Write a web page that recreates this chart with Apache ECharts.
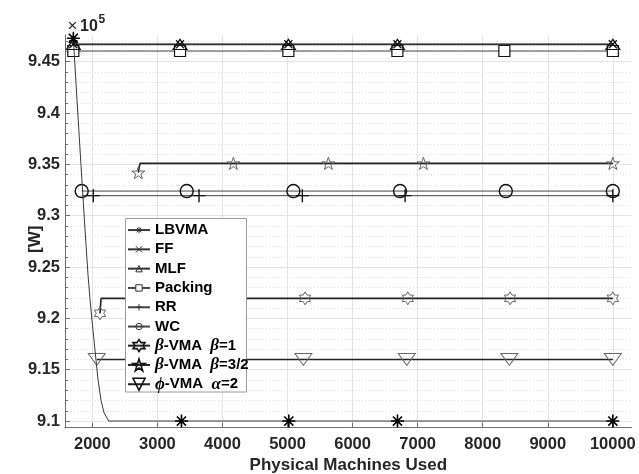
<!DOCTYPE html>
<html>
<head>
<meta charset="utf-8">
<script src="https://cdn.jsdelivr.net/npm/echarts@6/dist/echarts.min.js"></script>
<style>
  html, body { margin: 0; padding: 0; background: #fff; }
  #chart { width: 639px; height: 474px; }
</style>
</head>
<body>
<div id="chart"></div>
<script>
// Tick positions
const xTicks = [2000, 3000, 4000, 5000, 6000, 7000, 8000, 9000, 10000];
const yTicks = [9.1, 9.15, 9.2, 9.25, 9.3, 9.35, 9.4, 9.45];

// Power consumption (x1e5 W) versus number of physical machines used
const lbvmaX = [1708, 1765, 1826, 1888, 1934, 1965, 1995, 2041, 2088, 2134, 2180, 2252, 3370, 5020, 6690, 10000];
const lbvmaY = [9.4728, 9.412, 9.349, 9.286, 9.242, 9.218, 9.198, 9.169, 9.14, 9.12, 9.108, 9.1, 9.1, 9.1, 9.1, 9.1];
const lbvmaMarks = [0, 12, 13, 14, 15];

const ffX = [1708, 3348, 5013, 6689, 10000];
const ffY = [9.467, 9.467, 9.467, 9.467, 9.467];
const ffMarks = [0, 1, 2, 3, 4];

const mlfX = [1708, 3348, 5013, 6689, 10000];
const mlfY = [9.4668, 9.4668, 9.4668, 9.4668, 9.4668];
const mlfMarks = [0, 1, 2, 3, 4];

const packingX = [1708, 3348, 5013, 6689, 8333, 10000];
const packingY = [9.4604, 9.4604, 9.4604, 9.4604, 9.4604, 9.4604];
const packingMarks = [0, 1, 2, 3, 4, 5];

const rrX = [1837, 2015, 3640, 5228, 6807, 10000];
const rrY = [9.3195, 9.3195, 9.3195, 9.3195, 9.3195, 9.3195];
const rrMarks = [1, 2, 3, 4, 5];

const wcX = [1837, 3451, 5090, 6730, 8355, 10000];
const wcY = [9.324, 9.324, 9.324, 9.324, 9.324, 9.324];
const wcMarks = [0, 1, 2, 3, 4, 5];

const beta1X = [2118, 2134, 3694, 5270, 6849, 8421, 10000];
const beta1Y = [9.2049, 9.2195, 9.2195, 9.2195, 9.2195, 9.2195, 9.2195];
const beta1Marks = [0, 2, 3, 4, 5, 6];

const beta32X = [2707, 2733, 4168, 5628, 7089, 10000];
const beta32Y = [9.342, 9.351, 9.351, 9.351, 9.351, 9.351];
const beta32Marks = [0, 2, 3, 4, 5];

const phiX = [2068, 3656, 5244, 6833, 8410, 10000];
const phiY = [9.16, 9.16, 9.16, 9.16, 9.16, 9.16];
const phiMarks = [0, 1, 2, 3, 4, 5];

// Marker shapes
const SYM = {
  asterisk: 'path://M0,-10L0,10M-10,0L10,0M-7,-7L7,7M-7,7L7,-7',
  cross: 'path://M-7,-7L7,7M-7,7L7,-7',
  plus: 'path://M0,-10L0,10M-10,0L10,0',
  triUp: 'path://M100,0L200,170L0,170Z',
  hexagram: 'path://M0,-100L28.9,-50L86.6,-50L57.7,0L86.6,50L28.9,50L0,100L-28.9,50L-86.6,50L-57.7,0L-86.6,-50L-28.9,-50Z',
  pentagram: 'path://M0,-100L22.45,-30.9L95.1,-30.9L36.3,11.8L58.8,80.9L0,38.2L-58.8,80.9L-36.3,11.8L-95.1,-30.9L-22.45,-30.9Z',
  triDown: 'path://M0,0L200,0L100,170Z'
};

const FONT = '"Liberation Sans", Arial, Helvetica, sans-serif';
const SERIF = '"Liberation Serif", "DejaVu Serif", serif';

function points(xs, ys, marks) {
  return xs.map((x, i) => {
    const item = { value: [x, ys[i]] };
    if (marks.indexOf(i) < 0) item.symbol = 'none';
    return item;
  });
}

function lineSeries(name, xs, ys, marks, opts) {
  return {
    name: name,
    type: 'line',
    data: points(xs, ys, marks),
    symbol: opts.symbol,
    symbolSize: opts.size,
    symbolKeepAspect: true,
    showSymbol: true,
    lineStyle: { color: opts.line || '#333', width: opts.lw || 1 },
    itemStyle: {
      color: opts.fill || 'rgba(255,255,255,0)',
      borderColor: opts.stroke || '#111',
      borderWidth: opts.bw || 1.2
    },
    emphasis: { disabled: true },
    silent: true,
    animation: false,
    z: opts.z || 2
  };
}

const series = [
  lineSeries('LBVMA', lbvmaX, lbvmaY, lbvmaMarks, { symbol: SYM.asterisk, size: 13, line: '#3a3a3a', lw: 1, stroke: '#000', bw: 1.6, z: 5 }),
  lineSeries('FF', ffX, ffY, ffMarks, { symbol: SYM.cross, size: 8, line: '#333', lw: 1.4, stroke: '#111', bw: 1.2, z: 4 }),
  lineSeries('MLF', mlfX, mlfY, mlfMarks, { symbol: SYM.triUp, size: [14, 12], line: '#333', lw: 1.4, stroke: '#111', bw: 1.2, z: 4 }),
  lineSeries('Packing', packingX, packingY, packingMarks, { symbol: 'rect', size: 11, line: '#444', lw: 1, fill: '#fff', stroke: '#111', bw: 1.2, z: 3 }),
  lineSeries('RR', rrX, rrY, rrMarks, { symbol: SYM.plus, size: 13, line: '#444', lw: 1, stroke: '#111', bw: 1.4 }),
  lineSeries('WC', wcX, wcY, wcMarks, { symbol: 'circle', size: 13, line: '#444', lw: 1, stroke: '#111', bw: 1.4 }),
  lineSeries('β-VMA β=1', beta1X, beta1Y, beta1Marks, { symbol: SYM.hexagram, size: 13, line: '#222', lw: 1.6, stroke: '#666', bw: 1 }),
  lineSeries('β-VMA β=3/2', beta32X, beta32Y, beta32Marks, { symbol: SYM.pentagram, size: 13, line: '#222', lw: 1.6, stroke: '#666', bw: 1 }),
  lineSeries('ϕ-VMA α=2', phiX, phiY, phiMarks, { symbol: SYM.triDown, size: [17, 14], line: '#222', lw: 1.6, stroke: '#666', bw: 1 })
];

const richText = {
  b: { fontFamily: FONT, fontWeight: 'bold', fontSize: 15, color: '#000', lineHeight: 19.3 },
  g: { fontFamily: SERIF, fontStyle: 'italic', fontSize: 17, color: '#000', lineHeight: 19.3 }
};

function legendLabel(name) {
  const parts = name.split(' ');
  const head = parts[0];          // e.g. β-VMA
  const param = parts[1];         // e.g. β=1
  return '{g|' + head.charAt(0) + '}{b|' + head.slice(1) + '  }{g|' + param.charAt(0) + '}{b|' + param.slice(1) + '}';
}

const option = {
  backgroundColor: '#fff',
  animation: false,
  grid: { left: 65, right: 7.3, top: 35, bottom: 46.3, containLabel: false, outerBoundsMode: 'none' },
  xAxis: {
    type: 'value',
    min: 1580,
    max: 10290,
    splitNumber: 10,
    name: 'Physical Machines Used',
    nameLocation: 'middle',
    nameGap: 29,
    nameMoveOverlap: false,
    nameTextStyle: { fontFamily: FONT, fontWeight: 'bold', fontSize: 17, color: '#262626' },
    axisLine: { show: true, onZero: false, lineStyle: { color: '#6e6e6e', width: 1 } },
    axisTick: { show: true, inside: true, length: 5, customValues: xTicks, lineStyle: { color: '#6e6e6e' } },
    axisLabel: {
      customValues: xTicks, fontFamily: FONT, fontWeight: 'bold', fontSize: 16.5, color: '#262626', margin: 8,
      formatter: v => String(Math.round(v))
    },
    splitLine: { show: true, lineStyle: { color: '#e3e3e3', width: 1 } }
  },
  yAxis: {
    type: 'value',
    min: 9.0935,
    max: 9.476,
    splitNumber: 8,
    name: '[W]',
    nameLocation: 'middle',
    nameGap: 21,
    nameMoveOverlap: false,
    nameTextStyle: { fontFamily: FONT, fontWeight: 'bold', fontSize: 17, color: '#262626', padding: [0, 16, 0, 0] },
    axisLine: { show: true, onZero: false, lineStyle: { color: '#6e6e6e', width: 1 } },
    axisTick: { show: true, inside: true, length: 5, customValues: yTicks, lineStyle: { color: '#6e6e6e' } },
    minorTick: { show: true, splitNumber: 5, length: 3, lineStyle: { color: '#6e6e6e' } },
    axisLabel: {
      customValues: yTicks,
      fontFamily: FONT, fontWeight: 'bold', fontSize: 16.5, color: '#262626', margin: 5,
      formatter: v => String(Math.round(v * 100) / 100)
    },
    splitLine: { show: true, lineStyle: { color: '#e3e3e3', width: 1 } },
    minorSplitLine: { show: true, lineStyle: { color: '#e0e0e0', width: 1, type: [1, 2] } }
  },
  legend: [
    {
      data: ['LBVMA', 'FF', 'MLF', 'Packing', 'RR', 'WC'],
      orient: 'vertical',
      left: 127,
      top: 220.4,
      padding: 0,
      itemGap: 0,
      itemWidth: 22,
      itemHeight: 8,
      selectedMode: false,
      z: 8,
      textStyle: { fontFamily: FONT, fontWeight: 'bold', fontSize: 15, color: '#000', lineHeight: 19.3 },
      itemStyle: { borderWidth: 1, borderColor: '#333' }
    },
    {
      data: ['β-VMA β=1', 'β-VMA β=3/2', 'ϕ-VMA α=2'],
      orient: 'vertical',
      left: 127,
      top: 336,
      padding: 0,
      itemGap: 0,
      itemWidth: 22,
      itemHeight: 15,
      selectedMode: false,
      z: 8,
      formatter: legendLabel,
      textStyle: { fontFamily: FONT, fontWeight: 'bold', fontSize: 15, color: '#000', lineHeight: 19.3, rich: richText },
      itemStyle: { borderWidth: 1.6, borderColor: '#111' }
    }
  ],
  graphic: [
    {
      type: 'rect',
      z: 7,
      shape: { x: 125.5, y: 218.5, width: 121, height: 173.5 },
      style: { fill: '#fff', stroke: '#9a9a9a', lineWidth: 1 }
    },
    {
      type: 'text', z: 7, x: 72.5, y: 26.5,
      style: { text: '×', align: 'center', verticalAlign: 'middle',
               fontSize: 17, fontFamily: FONT, fill: '#262626' }
    },
    {
      type: 'text', z: 7, x: 80, y: 26.5,
      style: { text: '10', align: 'left', verticalAlign: 'middle',
               fontSize: 16, fontWeight: 'bold', fontFamily: FONT, fill: '#262626' }
    },
    {
      type: 'text', z: 7, x: 98.5, y: 19.5,
      style: { text: '5', align: 'left', verticalAlign: 'middle',
               fontSize: 12, fontWeight: 'bold', fontFamily: FONT, fill: '#262626' }
    }
  ],
  series: series
};

const chart = echarts.init(document.getElementById('chart'), null, { renderer: 'canvas' });
chart.setOption(option);
</script>
</body>
</html>
